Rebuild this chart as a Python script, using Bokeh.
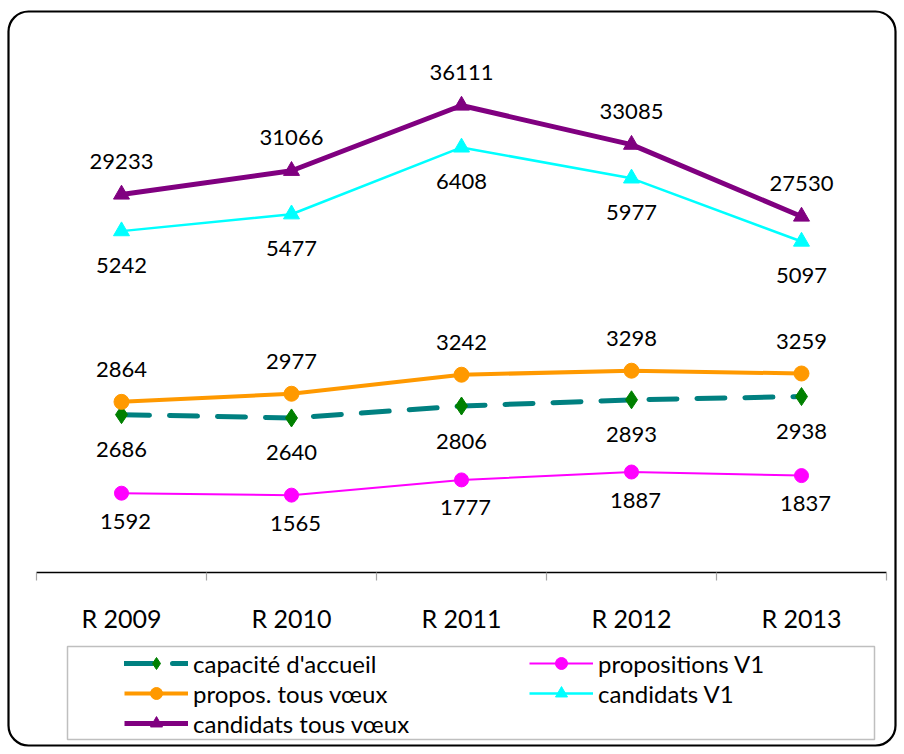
from bokeh.plotting import figure
from bokeh.models import Range1d, LinearAxis, FixedTicker, Legend, LegendItem, BoxAnnotation, Grid
from bokeh.core.properties import value
from bokeh.embed import file_html
from bokeh.resources import INLINE

# ---- data ----
categories = ["R 2009", "R 2010", "R 2011", "R 2012", "R 2013"]
capacite = [2686, 2640, 2806, 2893, 2938]
propositions_v1 = [1592, 1565, 1777, 1887, 1837]
propos_tous = [2864, 2977, 3242, 3298, 3259]
candidats_v1 = [5242, 5477, 6408, 5977, 5097]
candidats_tous = [29233, 31066, 36111, 33085, 27530]

xs = [i + 0.5 for i in range(len(categories))]
FONT = "Lato"

W, H = 897, 748
X0, CAT_W = 36, 170          # frame-pixel layout of category band
Y_AX, PRI_PX = 572.1, 0.012935
Y_SEC0, SEC_PX = 607.0, 0.0718

x_range = Range1d(-X0 / CAT_W, (W - X0) / CAT_W)
y_range = Range1d(-(H - Y_AX) / PRI_PX, Y_AX / PRI_PX)

p = figure(width=W, height=H, output_backend="svg", toolbar_location=None,
           x_range=x_range, y_range=y_range,
           x_axis_location=None, y_axis_location=None,
           min_border=0)
p.extra_y_ranges = {"sec": Range1d(-(H - Y_SEC0) / SEC_PX, Y_SEC0 / SEC_PX)}
p.center = [r for r in p.center if not isinstance(r, Grid)]
p.outline_line_color = None
p.background_fill_color = "white"
p.border_fill_color = "white"

xaxis = LinearAxis(ticker=FixedTicker(ticks=xs, minor_ticks=list(range(len(categories) + 1))),
                   major_label_overrides={x: c for x, c in zip(xs, categories)},
                   fixed_location=0, bounds=(0, len(categories)))
xaxis.axis_line_color = "black"
xaxis.axis_line_width = 1.5
xaxis.major_tick_line_color = None
xaxis.major_tick_out = 0
xaxis.major_tick_in = 0
xaxis.minor_tick_line_color = "#a6a6a6"
xaxis.minor_tick_line_width = 1.2
xaxis.minor_tick_out = 8
xaxis.minor_tick_in = 0
xaxis.major_label_text_font = FONT
xaxis.major_label_text_font_size = "25px"
xaxis.major_label_text_color = "black"
xaxis.major_label_standoff = 22
p.add_layout(xaxis, "below")

# ---- series ----
r_cap_l = p.line(xs, capacite, y_range_name="sec", line_color="#008080", line_width=5,
                 line_dash="28 20", line_cap="round")
r_cap_m = p.scatter(xs, capacite, y_range_name="sec", marker="diamond", size=18,
                    fill_color="#008000", line_color="#008000")

r_pv1_l = p.line(xs, propositions_v1, y_range_name="sec", line_color="#FF00FF", line_width=2)
r_pv1_m = p.scatter(xs, propositions_v1, y_range_name="sec", marker="circle", size=14,
                    fill_color="#FF00FF", line_color="#FF00FF")

r_pt_l = p.line(xs, propos_tous, y_range_name="sec", line_color="#FF9900", line_width=4)
r_pt_m = p.scatter(xs, propos_tous, y_range_name="sec", marker="circle", size=15,
                   fill_color="#FF9900", line_color="#FF9900")

r_cv1_l = p.line(xs, candidats_v1, y_range_name="sec", line_color="#00FFFF", line_width=2.5)
r_cv1_m = p.scatter(xs, candidats_v1, y_range_name="sec", marker="triangle", size=16,
                    fill_color="#00FFFF", line_color="#00FFFF")

r_ct_l = p.line(xs, candidats_tous, line_color="#800080", line_width=5)
r_ct_m = p.scatter(xs, candidats_tous, marker="triangle", size=16,
                   fill_color="#800080", line_color="#800080")

# ---- data labels ----
def labels(vals, yoff, rng=None, xoff=0):
    kw = dict(text=[str(v) for v in vals], x_offset=xoff, y_offset=yoff,
              text_align="center", text_baseline="middle",
              text_font=value(FONT), text_font_size="22px", text_color="black")
    if rng:
        kw["y_range_name"] = rng
    p.text(xs, vals, **kw)

labels(candidats_tous, -33)
labels(candidats_v1, 34, "sec")
labels(propos_tous, -32, "sec")
labels(capacite, 35, "sec")
labels(propositions_v1, 28, "sec", 4)

# ---- legend ----
def mk_legend(items, loc):
    lg = Legend(items=items, location=loc)
    lg.border_line_color = None
    lg.background_fill_alpha = 0
    lg.padding = 0
    lg.margin = 0
    lg.spacing = 0
    lg.glyph_width = 64
    lg.glyph_height = 30
    lg.label_height = 30
    lg.label_standoff = 5
    lg.label_text_font = FONT
    lg.label_text_font_size = "24px"
    lg.label_text_color = "black"
    p.add_layout(lg)
    return lg

mk_legend([
    LegendItem(label="capacité d'accueil", renderers=[r_cap_l, r_cap_m]),
    LegendItem(label="propos. tous vœux", renderers=[r_pt_l, r_pt_m]),
    LegendItem(label="candidats tous vœux", renderers=[r_ct_l, r_ct_m]),
], (124, H - 738))
mk_legend([
    LegendItem(label="propositions V1", renderers=[r_pv1_l, r_pv1_m]),
    LegendItem(label="candidats V1", renderers=[r_cv1_l, r_cv1_m]),
], (529, H - 708))

legend_box = BoxAnnotation(left=67, right=874, top=646, bottom=739,
                           left_units="canvas", right_units="canvas",
                           top_units="canvas", bottom_units="canvas",
                           fill_alpha=0, line_color="#bfbfbf", line_alpha=1, line_width=1.5)
p.add_layout(legend_box)

outer = BoxAnnotation(left=8, right=895, top=11, bottom=745,
                      left_units="canvas", right_units="canvas",
                      top_units="canvas", bottom_units="canvas",
                      fill_alpha=0, line_color="black", line_alpha=1, line_width=2.2,
                      border_radius=20)
p.add_layout(outer)

open("out.html", "w").write(file_html(p, INLINE))
